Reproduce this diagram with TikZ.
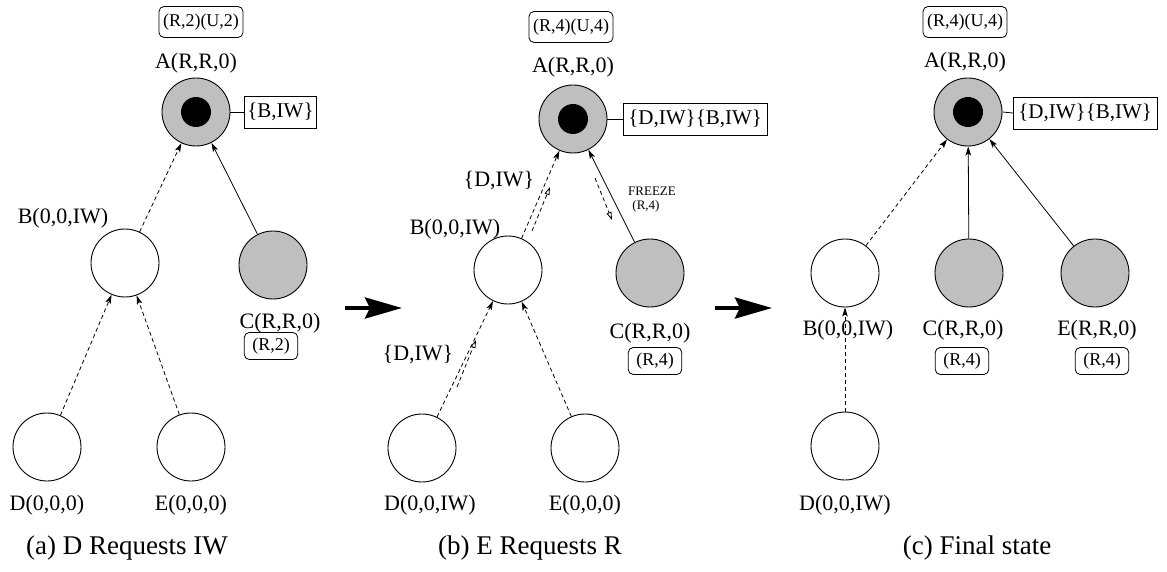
\documentclass[tikz,border=0pt]{standalone}
\usepackage{fontspec}
\setmainfont{Liberation Serif}
\usetikzlibrary{arrows.meta}
\begin{document}
\begin{tikzpicture}[x=1pt,y=-1pt,
  proc/.style={circle,draw,line width=0.9pt,minimum size=68pt,inner sep=0pt},
  holder/.style={proc,fill=black!25},
  core/.style={circle,fill=black,minimum size=30pt,inner sep=0pt},
  lbl/.style={font=\fontsize{22}{24}\selectfont,inner sep=0pt},
  qbox/.style={draw,line width=0.8pt,font=\fontsize{21}{24}\selectfont,inner xsep=3pt,inner ysep=0pt,minimum height=32pt},
  tok/.style={draw,rounded corners=5pt,line width=0.8pt,font=\fontsize{18}{20}\selectfont,inner xsep=4pt,inner ysep=0pt,minimum height=31pt},
  toksmall/.style={tok,inner xsep=8pt,minimum height=27pt},
  captxt/.style={font=\fontsize{27}{30}\selectfont,inner sep=0pt},
  smalltxt/.style={font=\fontsize{13}{14}\selectfont,inner sep=0pt},
  wait/.style={dash pattern=on 4pt off 3pt,line width=0.8pt,-{Stealth[length=9pt,width=5.5pt,inset=2pt]}},
  grant/.style={line width=0.8pt,-{Stealth[length=9pt,width=5.5pt,inset=2pt]}},
  msg/.style={dash pattern=on 4pt off 3pt,line width=0.8pt,-{Triangle[open,length=8pt,width=5pt]}},
  link/.style={line width=0.8pt},
  nextstate/.style={line width=4pt,-{Stealth[length=37pt,width=21pt,inset=5pt]}}
]
\useasboundingbox (0,0) rectangle (1167,572);

% ---------------- (a) D requests IW ----------------
\node[holder] (Aa) at (196,112) {};
\node[core] (Aa-in) at (Aa) {};
\node[lbl] (Aa-l) at (196,63) {A(R,R,0)};
\node[tok] (Aa-t) at (201,22) {(R,2)(U,2)};
\node[qbox,anchor=west] (Aa-q) at (244,112) {\{B,IW\}};
\draw[link] (Aa.east) -- (Aa-q.west);

\node[proc] (Ba) at (125,263) {};
\node[lbl] (Ba-l) at (63,218) {B(0,0,IW)};
\node[holder] (Ca) at (273,265) {};
\node[lbl] (Ca-l) at (280,323) {C(R,R,0)};
\node[toksmall] (Ca-t) at (271,346) {(R,2)};
\node[proc] (Da) at (47,447) {};
\node[lbl] (Da-l) at (47,505) {D(0,0,0)};
\node[proc] (Ea) at (191,447) {};
\node[lbl] (Ea-l) at (191,505) {E(0,0,0)};
\node[captxt] (capa) at (127,548) {(a) D Requests IW};

\draw[wait] (Ba) -- (Aa);
\draw[grant] (Ca) -- (Aa);
\draw[wait] (Da) -- (Ba);
\draw[wait] (Ea) -- (Ba);

% transition arrow
\coordinate (n1s) at (345,308);
\coordinate (n1e) at (402,308);
\draw[nextstate] (n1s) -- (n1e);

% ---------------- (b) E requests R ----------------
\node[holder] (Ab) at (573,119) {};
\node[core] (Ab-in) at (Ab) {};
\node[lbl] (Ab-l) at (573,67) {A(R,R,0)};
\node[tok] (Ab-t) at (571,27) {(R,4)(U,4)};
\node[qbox,anchor=west,inner xsep=5pt] (Ab-q) at (623,119) {\{D,IW\}\{B,IW\}};
\draw[link] (Ab.east) -- (Ab-q.west);

\node[proc] (Bb) at (508,270) {};
\node[lbl] (Bb-l) at (455,229) {B(0,0,IW)};
\node[holder] (Cb) at (650,273) {};
\node[lbl] (Cb-l) at (650,333) {C(R,R,0)};
\node[toksmall] (Cb-t) at (655,361) {(R,4)};
\node[proc] (Db) at (422,448) {};
\node[lbl] (Db-l) at (430,505) {D(0,0,IW)};
\node[proc] (Eb) at (585,448) {};
\node[lbl] (Eb-l) at (585,505) {E(0,0,0)};
\node[captxt] (capb) at (530,548) {(b) E Requests R};

\draw[wait] (Bb) -- (Ab);
\draw[grant] (Cb) -- (Ab);
\draw[wait] (Db) -- (Bb);
\draw[wait] (Eb) -- (Bb);

% forwarded request and freeze messages
\coordinate (f1s) at (532,231);
\coordinate (f1e) at (550,187);
\draw[msg] (f1s) -- (f1e);
\node[lbl] (f1-l) at (499,181) {\{D,IW\}};
\coordinate (f2s) at (457,387);
\coordinate (f2e) at (476,340);
\draw[msg] (f2s) -- (f2e);
\node[lbl] (f2-l) at (418,355) {\{D,IW\}};
\coordinate (f3s) at (595,178);
\coordinate (f3e) at (612,220);
\draw[msg] (f3s) -- (f3e);
\node[smalltxt] (fz-l) at (652,191) {FREEZE};
\node[smalltxt] (fz-v) at (646,206) {(R,4)};

% transition arrow
\coordinate (n2s) at (715,308);
\coordinate (n2e) at (772,308);
\draw[nextstate] (n2s) -- (n2e);

% ---------------- (c) Final state ----------------
\node[holder] (Ac) at (968,112) {};
\node[core] (Ac-in) at (Ac) {};
\node[lbl] (Ac-l) at (965,62) {A(R,R,0)};
\node[tok] (Ac-t) at (965,22) {(R,4)(U,4)};
\node[qbox,anchor=west,inner xsep=5pt] (Ac-q) at (1013,113) {\{D,IW\}\{B,IW\}};
\draw[link] (Ac.east) -- (Ac-q.west);

\node[proc] (Bc) at (845,273) {};
\node[lbl] (Bc-l) at (848,330) {B(0,0,IW)};
\node[holder] (Cc) at (969,273) {};
\node[lbl] (Cc-l) at (963,330) {C(R,R,0)};
\node[toksmall] (Cc-t) at (962,361) {(R,4)};
\node[holder] (Ec) at (1095,273) {};
\node[lbl] (Ec-l) at (1097,330) {E(R,R,0)};
\node[toksmall] (Ec-t) at (1102,361) {(R,4)};
\node[proc] (Dc) at (845,446) {};
\node[lbl] (Dc-l) at (845,505) {D(0,0,IW)};
\node[captxt] (capc) at (977,548) {(c) Final state};

\draw[wait] (Bc) -- (Ac);
\draw[grant] (Cc) -- (Ac);
\draw[grant] (Ec) -- (Ac);
\draw[wait] (Dc) -- (Bc);
\end{tikzpicture}
\end{document}
